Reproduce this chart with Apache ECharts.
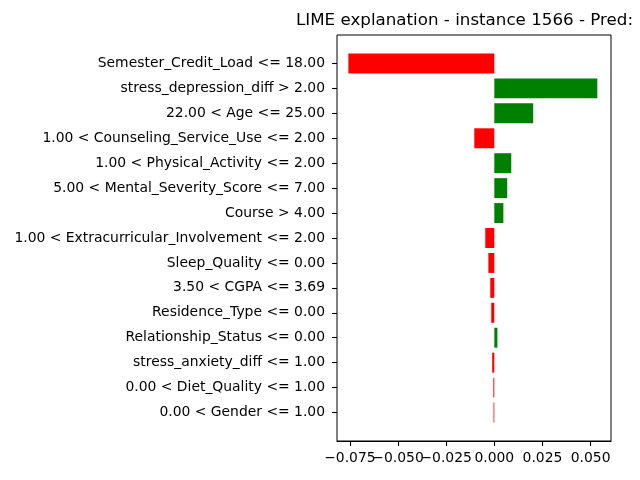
<!DOCTYPE html>
<html>
<head>
<meta charset="utf-8">
<script src="https://cdn.jsdelivr.net/npm/echarts@6/dist/echarts.min.js"></script>
<style>
html, body { margin: 0; padding: 0; background: #fff; }
#lime { width: 640px; height: 480px; }
</style>
</head>
<body>
<div id="lime"></div>
<script>
// ------------------ LIME 特征权重 ------------------
var features = [
    'Semester_Credit_Load <= 18.00',
    'stress_depression_diff > 2.00',
    '22.00 < Age <= 25.00',
    '1.00 < Counseling_Service_Use <= 2.00',
    '1.00 < Physical_Activity <= 2.00',
    '5.00 < Mental_Severity_Score <= 7.00',
    'Course > 4.00',
    '1.00 < Extracurricular_Involvement <= 2.00',
    'Sleep_Quality <= 0.00',
    '3.50 < CGPA <= 3.69',
    'Residence_Type <= 0.00',
    'Relationship_Status <= 0.00',
    'stress_anxiety_diff <= 1.00',
    '0.00 < Diet_Quality <= 1.00',
    '0.00 < Gender <= 1.00'
];
var weights = [
    -0.0758, 0.0535, 0.0202, -0.0104, 0.0088, 0.0067, 0.0047, -0.0047,
    -0.0031, -0.0021, -0.0016, 0.0016, -0.0011, -0.0005, -0.0004
];
var xTicks = [-0.075, -0.050, -0.025, 0.000, 0.025, 0.050];
var X_MIN = -0.0817, X_MAX = 0.0606;

var FONT = 'DejaVu Sans';

function fmtTick(v) {
    return (v < 0 ? '\u2212' : '') + Math.abs(v).toFixed(3);
}

// 标签互相挨着, 分两条轴画以免被隐藏
function xLabelAxis(values) {
    return {
        gridIndex: 0,
        type: 'value',
        position: 'bottom',
        offset: 0,
        min: X_MIN,
        max: X_MAX,
        splitLine: {show: false},
        axisLine: {show: false},
        axisTick: {show: false},
        axisLabel: {
            margin: 10,
            customValues: values,
            formatter: fmtTick,
            showMinLabel: true,
            showMaxLabel: true,
            color: '#000',
            fontFamily: FONT,
            fontSize: 13.9
        }
    };
}

function drawLime() {
    var myChart = echarts.init(document.getElementById('lime'));

    var barData = weights.map(function (w) {
        return {value: w, itemStyle: {color: w > 0 ? '#008000' : '#ff0000'}};
    });

    var option = {
        animation: false,
        backgroundColor: '#fff',
        title: {
            text: 'LIME explanation - instance 1566 - Pred:',
            left: 296,
            top: 12,
            padding: 0,
            textStyle: {fontFamily: FONT, fontSize: 16.7, fontWeight: 'normal', color: '#000'}
        },
        grid: [
            // 外框 + x轴
            {left: 337, right: 29, top: 35, bottom: 39, show: true,
                borderColor: '#000', borderWidth: 1, backgroundColor: 'transparent'},
            // 条形区域 (matplotlib 的上下留白)
            {left: 337, right: 29, top: 51, bottom: 55}
        ],
        xAxis: [
            {
                gridIndex: 0,
                type: 'value',
                position: 'bottom',
                min: X_MIN,
                max: X_MAX,
                splitLine: {show: false},
                axisLine: {show: true, lineStyle: {color: '#000', width: 1}},
                axisTick: {show: true, inside: false, length: 5, customValues: xTicks,
                    lineStyle: {color: '#000', width: 1.1}},
                axisLabel: {show: false}
            },
            {
                gridIndex: 1,
                type: 'value',
                min: X_MIN,
                max: X_MAX,
                show: false
            },
            xLabelAxis(xTicks.filter(function (v, i) { return i % 2 === 0; })),
            xLabelAxis(xTicks.filter(function (v, i) { return i % 2 === 1; }))
        ],
        yAxis: [
            {gridIndex: 0, type: 'value', show: false},
            {
                gridIndex: 1,
                type: 'category',
                position: 'left',
                inverse: true,
                data: features,
                axisLine: {show: false, onZero: false},
                axisTick: {show: true, inside: false, interval: 0, alignWithLabel: true, length: 5,
                    lineStyle: {color: '#000', width: 1.1}},
                axisLabel: {margin: 12, color: '#000', fontFamily: FONT, fontSize: 13.9, interval: 0},
                splitLine: {show: false}
            }
        ],
        series: [{
            type: 'bar',
            xAxisIndex: 1,
            yAxisIndex: 1,
            barWidth: '80%',
            data: barData
        }]
    };
    myChart.setOption(option);
}
drawLime();
</script>
</body>
</html>
